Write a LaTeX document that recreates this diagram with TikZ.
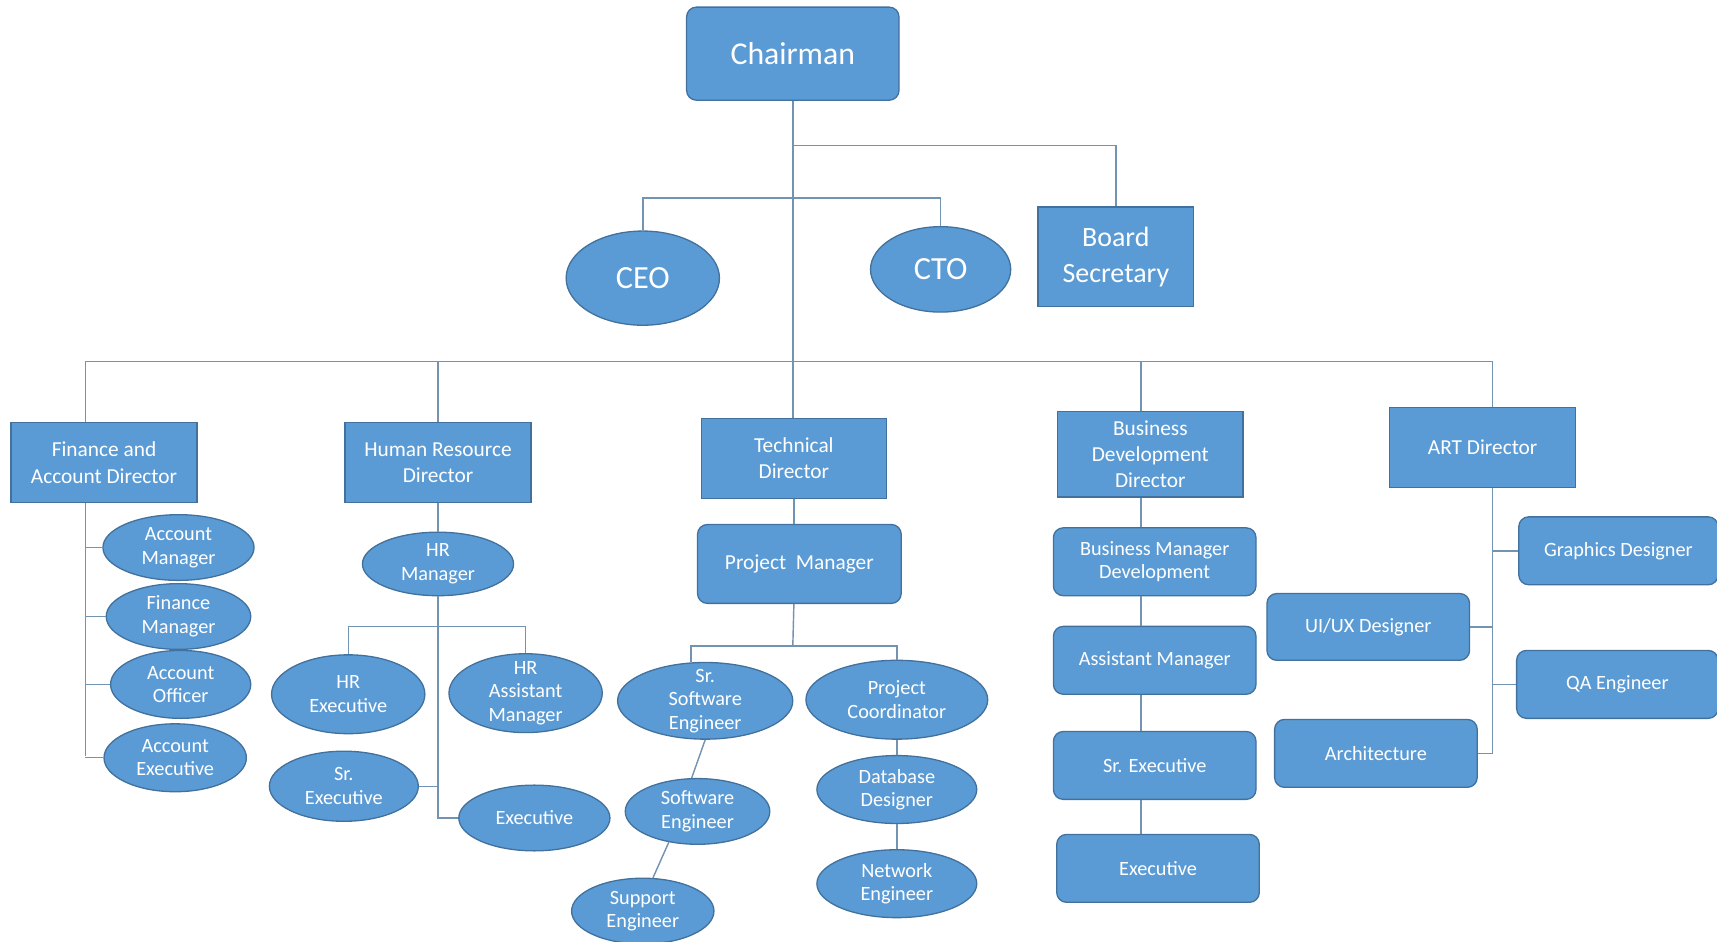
\documentclass[tikz,border=0pt]{standalone}
\usepackage{fontspec}
\setmainfont{Carlito}
\usetikzlibrary{shapes.geometric}
\definecolor{boxfill}{HTML}{5B9BD5}
\definecolor{boxline}{HTML}{41719C}
\definecolor{connline}{HTML}{7393B3}
\tikzset{
  box/.style={rectangle, fill=boxfill, draw=boxline, line width=1.2pt, text=white, align=center, inner sep=0pt},
  rbox/.style={box, rounded corners=9pt},
  oval/.style={ellipse, fill=boxfill, draw=boxline, line width=1.2pt, text=white, align=center, inner sep=-14pt},
  conn/.style={draw=connline, line width=1.3pt},
  fbig/.style={font=\fontsize{29.5}{34}\selectfont},
  fdir/.style={font=\fontsize{19.5}{24}\selectfont},
  fsm/.style={font=\fontsize{18.5}{21.5}\selectfont},
  sz/.style 2 args={minimum width=#1pt, minimum height=#2pt}
}
\begin{document}
\begin{tikzpicture}[x=1pt,y=-1pt]
\useasboundingbox (0,0) rectangle (1568,860);
\coordinate (busL) at (78,330);
\coordinate (busR) at (1363,330);
\coordinate (bsj) at (724,133);
\coordinate (cj) at (724,181);
\coordinate (bdx) at (1042,330);
\coordinate (hrj) at (400,572);
\coordinate (tj) at (724,590);
\coordinate (fsp) at (78,690);

% top level
\node[rbox,font=\fontsize{29}{34}\selectfont,sz={194}{85}] (chair) at (724,49) {Chairman};
\node[oval,fbig,sz={140}{86}] (ceo) at (587,254) {CEO};
\node[oval,fbig,sz={128}{78}] (cto) at (859,246) {CTO};
\node[box,font=\fontsize{25.5}{33}\selectfont,sz={142}{91}] (bs) at (1019,234.5) {Board\\Secretary};

% directors
\node[box,fdir,sz={170}{73}] (fin) at (95,422.5) {Finance and\\Account Director};
\node[box,fdir,sz={170}{73}] (hrd) at (400,422.5) {Human Resource\\Director};
\node[box,fdir,sz={169}{73}] (td) at (725,418.5) {Technical\\Director};
\node[box,fdir,sz={169}{78}] (bdd) at (1050.5,415) {Business\\Development\\Director};
\node[box,fdir,sz={170}{73}] (art) at (1354,408.5) {ART Director};

% finance
\node[oval,fsm,sz={138}{60}] (am) at (163,500) {Account\\Manager};
\node[oval,fsm,sz={132}{60}] (fm) at (163,563) {Finance\\Manager};
\node[oval,fsm,sz={128}{62}] (ao) at (165,625) {Account\\Officer};
\node[oval,fsm,sz={130}{62}] (ae) at (160,692) {Account\\Executive};

% HR
\node[oval,fsm,sz={138}{58}] (hrm) at (400,515) {HR\\Manager};
\node[oval,fsm,sz={140}{72}] (hrx) at (318,634) {HR\\Executive};
\node[oval,fsm,sz={140}{72}] (hram) at (480,633) {HR\\Assistant\\Manager};
\node[oval,fsm,sz={136}{64}] (srx) at (314,718) {Sr.\\Executive};
\node[oval,fsm,sz={138}{60}] (hrex) at (488,747) {Executive};

% technical
\node[rbox,fdir,sz={186}{72}] (pm) at (730,515) {Project\ \ Manager};
\node[oval,fsm,sz={160}{70}] (sse) at (644,640) {Sr.\\Software\\Engineer};
\node[oval,fsm,sz={166}{72}] (pc) at (819,639) {Project\\Coordinator};
\node[oval,fsm,sz={132}{60}] (se) at (637,741) {Software\\Engineer};
\node[oval,fsm,sz={130}{60}] (sup) at (587,832) {Support\\Engineer};
\node[oval,fsm,sz={146}{62}] (dd) at (819,721) {Database\\Designer};
\node[oval,fsm,sz={146}{62}] (ne) at (819,807) {Network\\Engineer};

% business
\node[rbox,fsm,sz={185}{62}] (bmd) at (1054.5,513) {Business Manager\\Development};
\node[rbox,fsm,sz={185}{62}] (asm) at (1054.5,603) {Assistant Manager};
\node[rbox,fsm,sz={185}{62}] (bsx) at (1054.5,699) {Sr. Executive};
\node[rbox,fsm,sz={185}{62}] (bex) at (1057.5,793) {Executive};

% art
\node[rbox,fsm,sz={182}{62}] (gd) at (1478,503) {Graphics Designer};
\node[rbox,fsm,sz={185}{61}] (ui) at (1249.5,572.5) {UI/UX Designer};
\node[rbox,fsm,sz={184}{62}] (qa) at (1477,625) {QA Engineer};
\node[rbox,fsm,sz={185}{62}] (arch) at (1256.5,688) {Architecture};

% connectors
\draw[conn] (chair.south) -- (chair.south |- busL);
\draw[conn] (bsj) -| (bs.north);
\draw[conn] (ceo.north) |- (cj) -| (cto.north);
\draw[conn] (busL) -- (busR);
\draw[conn] (busL) -- (busL |- fin.north);
\draw[conn] (hrd.north |- busL) -- (hrd.north);
\draw[conn] (chair.south |- busL) -- (chair.south |- td.north);
\draw[conn] (bdx) -- (bdx |- bdd.north);
\draw[conn] (busR) -- (busR |- art.north);

% finance
\draw[conn] (busL |- fin.south) -- (fsp);
\draw[conn] (am.west) -- (am.west -| fsp);
\draw[conn] (fm.west) -- (fm.west -| fsp);
\draw[conn] (ao.west) -- (ao.west -| fsp);
\draw[conn] (ae.west -| fsp) -- (ae.west);

% HR
\draw[conn] (hrd.south) -- (hrm.north);
\draw[conn] (hrm.south) -- (hrm.south |- hrex.west) -- (hrex.west);
\draw[conn] (hrx.north) |- (hrj) -| (hram.north);
\draw[conn] (srx.east) -- (srx.east -| hrj);

% technical
\draw[conn] (td.south) -- (td.south |- pm.north);
\draw[conn] (td.south |- pm.south) -- (tj);
\draw[conn] (sse.110) |- (tj) -| (pc.north);
\draw[conn] (sse.south) -- (se.100);
\draw[conn] (se.227) -- (sup.73);
\draw[conn] (pc.south) -- (dd.north);
\draw[conn] (dd.south) -- (ne.north);

% business
\draw[conn] (bdx |- bdd.south) -- (bdx |- bmd.north);
\draw[conn] (bdx |- bmd.south) -- (bdx |- asm.north);
\draw[conn] (bdx |- asm.south) -- (bdx |- bsx.north);
\draw[conn] (bdx |- bsx.south) -- (bdx |- bex.north);

% art
\draw[conn] (busR |- art.south) -- (busR |- arch.east) -- (arch.east);
\draw[conn] (gd.west) -- (gd.west -| busR);
\draw[conn] (ui.east) -- (ui.east -| busR);
\draw[conn] (qa.west) -- (qa.west -| busR);
\end{tikzpicture}
\end{document}
